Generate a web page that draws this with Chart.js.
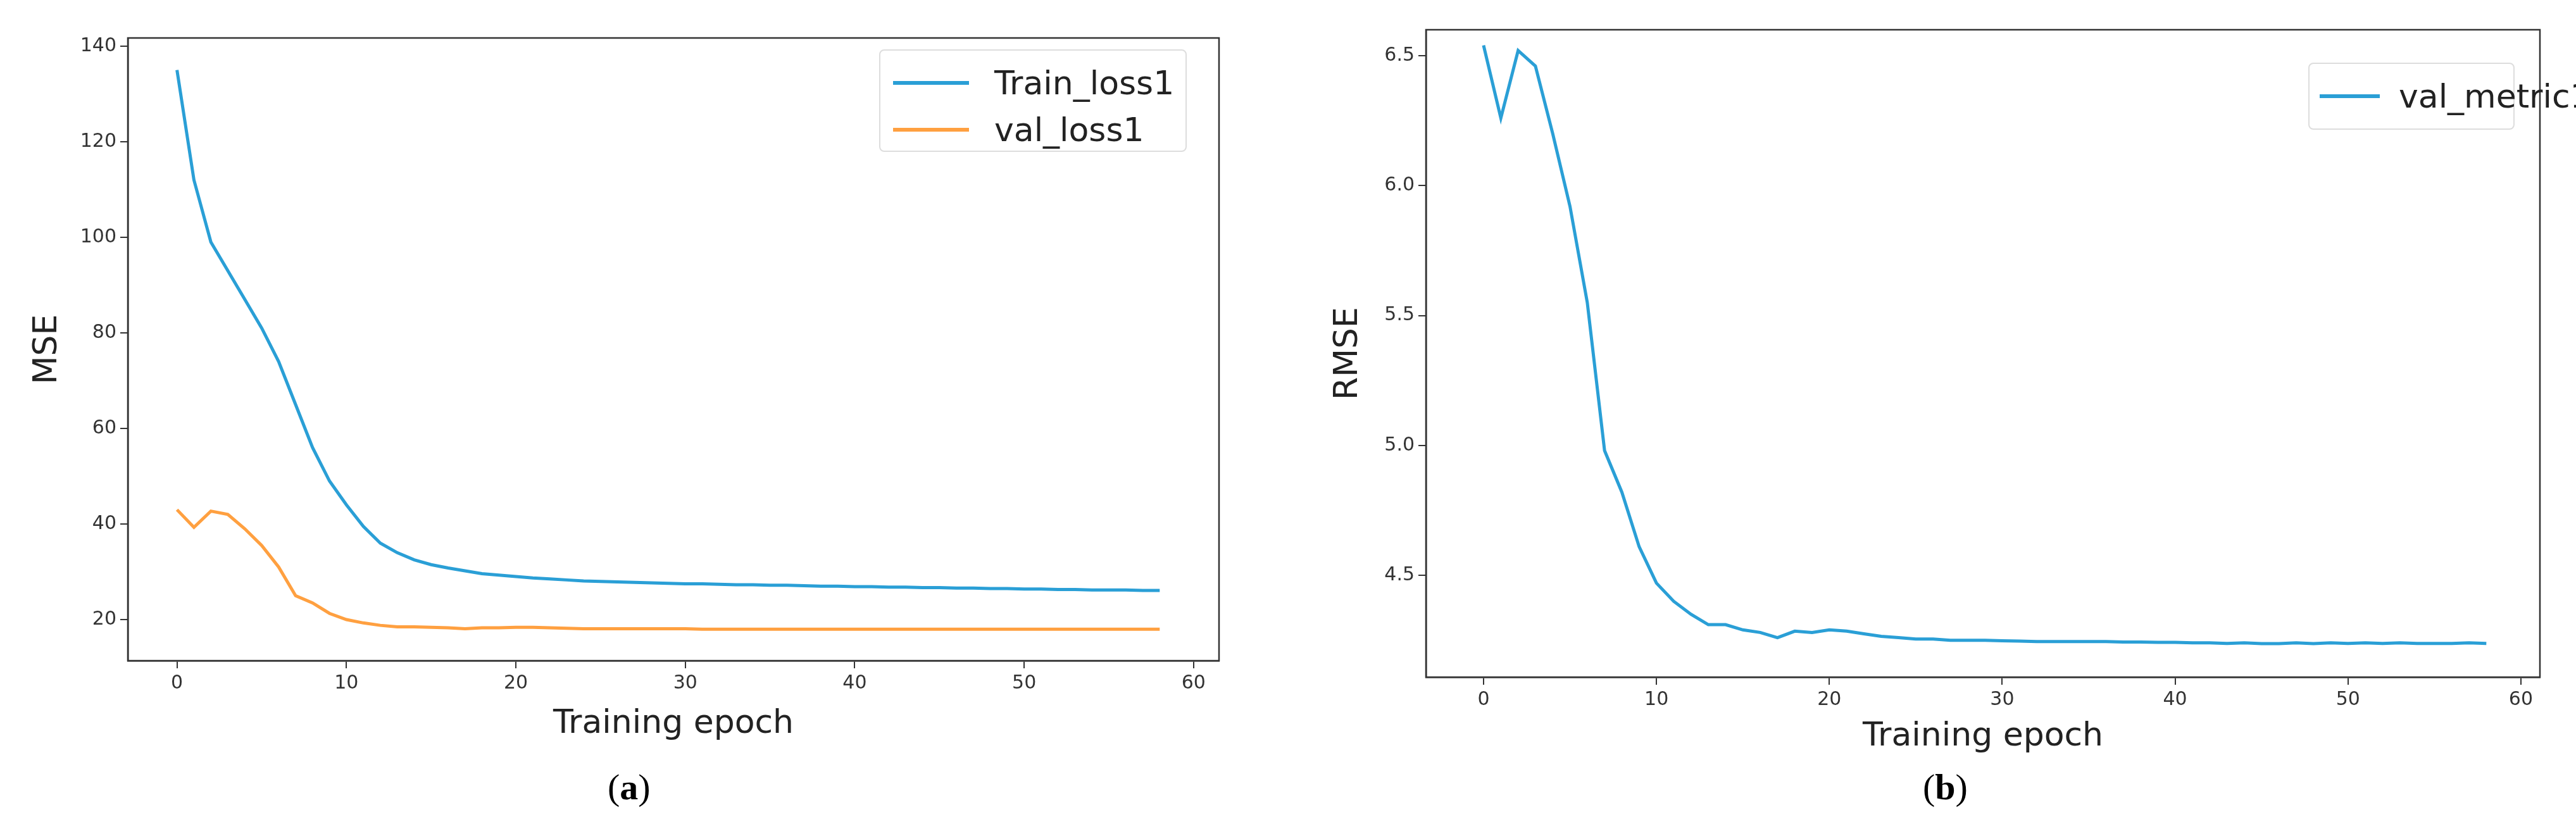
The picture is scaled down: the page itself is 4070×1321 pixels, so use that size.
<!DOCTYPE html>
<html><head><meta charset="utf-8">
<script src="https://cdn.jsdelivr.net/npm/chart.js@4.4.1/dist/chart.umd.min.js"></script>
<style>
body{margin:0;background:#fff;width:4070px;height:1321px;position:relative;overflow:hidden;font-family:"DejaVu Sans",sans-serif}
.c{position:absolute}
.leg{position:absolute;border:2px solid #ddd;border-radius:8px;background:#fff;box-sizing:border-box;padding:14px 20px;font-size:52px;color:#222}
.leg div{display:flex;align-items:center;height:74px;white-space:nowrap}
.leg span{display:inline-block;flex-shrink:0;width:120px;height:6px;margin-right:40px}
.cap{position:absolute;font-family:"Liberation Serif",serif;font-size:58px;top:1210px}
</style></head><body>
<div class="c" style="left:0;top:0;width:2000px;height:1180px"><canvas id="a"></canvas></div>
<div class="c" style="left:2050px;top:0;width:2020px;height:1200px"><canvas id="b"></canvas></div>
<div class="leg" style="left:1389px;top:78px;width:486px;height:162px">
  <div><span style="background:#2a9fd6"></span>Train_loss1</div>
  <div><span style="background:#ffa040"></span>val_loss1</div>
</div>
<div class="leg" style="left:3647px;top:99px;width:326px;height:106px;padding:14px 16px">
  <div><span style="background:#2a9fd6;width:95px;margin-right:30px"></span>val_metric1</div>
</div>
<div class="cap" style="left:960px">(<b>a</b>)</div>
<div class="cap" style="left:3038px">(<b>b</b>)</div>
<script>
const epochs = Array.from({length: 59}, (_, i) => i);
const trainLoss = [135,112,99,93,87,81,74,65,56,49,44,39.5,36,34,32.5,31.5,30.8,30.2,29.6,29.3,29,28.7,28.5,28.3,28.1,28,27.9,27.8,27.7,27.6,27.5,27.5,27.4,27.3,27.3,27.2,27.2,27.1,27,27,26.9,26.9,26.8,26.8,26.7,26.7,26.6,26.6,26.5,26.5,26.4,26.4,26.3,26.3,26.2,26.2,26.2,26.1,26.1];
const valLoss = [43,39.3,42.7,42,39,35.5,31,25,23.5,21.3,20,19.3,18.8,18.5,18.5,18.4,18.3,18.1,18.3,18.3,18.4,18.4,18.3,18.2,18.1,18.1,18.1,18.1,18.1,18.1,18.1,18.0,18.0,18.0,18.0,18.0,18.0,18.0,18.0,18.0,18.0,18.0,18.0,18.0,18.0,18.0,18.0,18.0,18.0,18.0,18.0,18.0,18.0,18.0,18.0,18.0,18.0,18.0,18.0];
const valMetric = [6.54,6.26,6.52,6.46,6.2,5.92,5.55,4.98,4.82,4.61,4.47,4.4,4.35,4.31,4.31,4.29,4.28,4.26,4.285,4.28,4.29,4.285,4.275,4.265,4.26,4.255,4.255,4.25,4.25,4.25,4.248,4.247,4.245,4.245,4.245,4.245,4.245,4.243,4.243,4.242,4.242,4.24,4.24,4.238,4.24,4.237,4.237,4.24,4.237,4.24,4.238,4.24,4.238,4.24,4.238,4.238,4.238,4.24,4.238];
const xTicksA = [0,10,20,30,40,50,60];
const yTicksA = [20,40,60,80,100,120,140];
const yTicksB = [4.5,5.0,5.5,6.0,6.5];

const frame = { id: 'frame', afterDraw(c) {
  const a = c.chartArea, g = c.ctx;
  g.save(); g.strokeStyle = '#333'; g.lineWidth = 2.5; g.strokeRect(a.left, a.top, a.right - a.left, a.bottom - a.top); g.restore();
}};
const pts = (xs, ys) => xs.map((x, i) => ({ x, y: ys[i] }));
const tickFont = { family: 'DejaVu Sans', size: 30 };
const titleFont = { family: 'DejaVu Sans', size: 52 };

function make(id, datasets, yLabel, yTicks, xmin, xmax, ymin, ymax, yW, xH, pad, fmt) {
  new Chart(document.getElementById(id), {
    type: 'line',
    data: { datasets },
    options: {
      responsive: true, maintainAspectRatio: false, animation: false,
      layout: { padding: pad },
      plugins: { legend: { display: false }, tooltip: { enabled: false } },
      elements: { point: { radius: 0 }, line: { borderWidth: 5, tension: 0 } },
      scales: {
        x: { type: 'linear', min: xmin, max: xmax,
          afterBuildTicks: ax => { ax.ticks = xTicksA.map(v => ({ value: v })); },
          afterFit: ax => { ax.height = xH; },
          grid: { drawOnChartArea: false, tickLength: 12, color: '#333', lineWidth: 2 },
          border: { color: '#333', width: 2.5 },
          ticks: { color: '#333', font: tickFont, padding: 6 },
          title: { display: true, text: 'Training epoch', color: '#222', font: titleFont, padding: { top: 0 } } },
        y: { min: ymin, max: ymax,
          afterBuildTicks: ax => { ax.ticks = yTicks.map(v => ({ value: v })); },
          afterFit: ax => { ax.width = yW; },
          grid: { drawOnChartArea: false, tickLength: 12, color: '#333', lineWidth: 2 },
          border: { color: '#333', width: 2.5 },
          ticks: { color: '#333', font: tickFont, padding: 6, callback: fmt },
          title: { display: true, text: yLabel, color: '#222', font: titleFont } }
      }
    },
    plugins: [frame]
  });
}

make('a', [
  { data: pts(epochs, trainLoss), borderColor: '#2a9fd6' },
  { data: pts(epochs, valLoss), borderColor: '#ffa040' }
], 'MSE', yTicksA, -2.9, 61.5, 11.4, 141.7, 162, 136, { top: 60, right: 74, left: 40, bottom: 0 }, v => v);

make('b', [
  { data: pts(epochs, valMetric), borderColor: '#2a9fd6' }
], 'RMSE', yTicksB, -3.33, 61.1, 4.108, 6.6, 158, 130, { top: 47, right: 57, left: 45, bottom: 0 }, v => v.toFixed(1));
</script>
</body></html>
